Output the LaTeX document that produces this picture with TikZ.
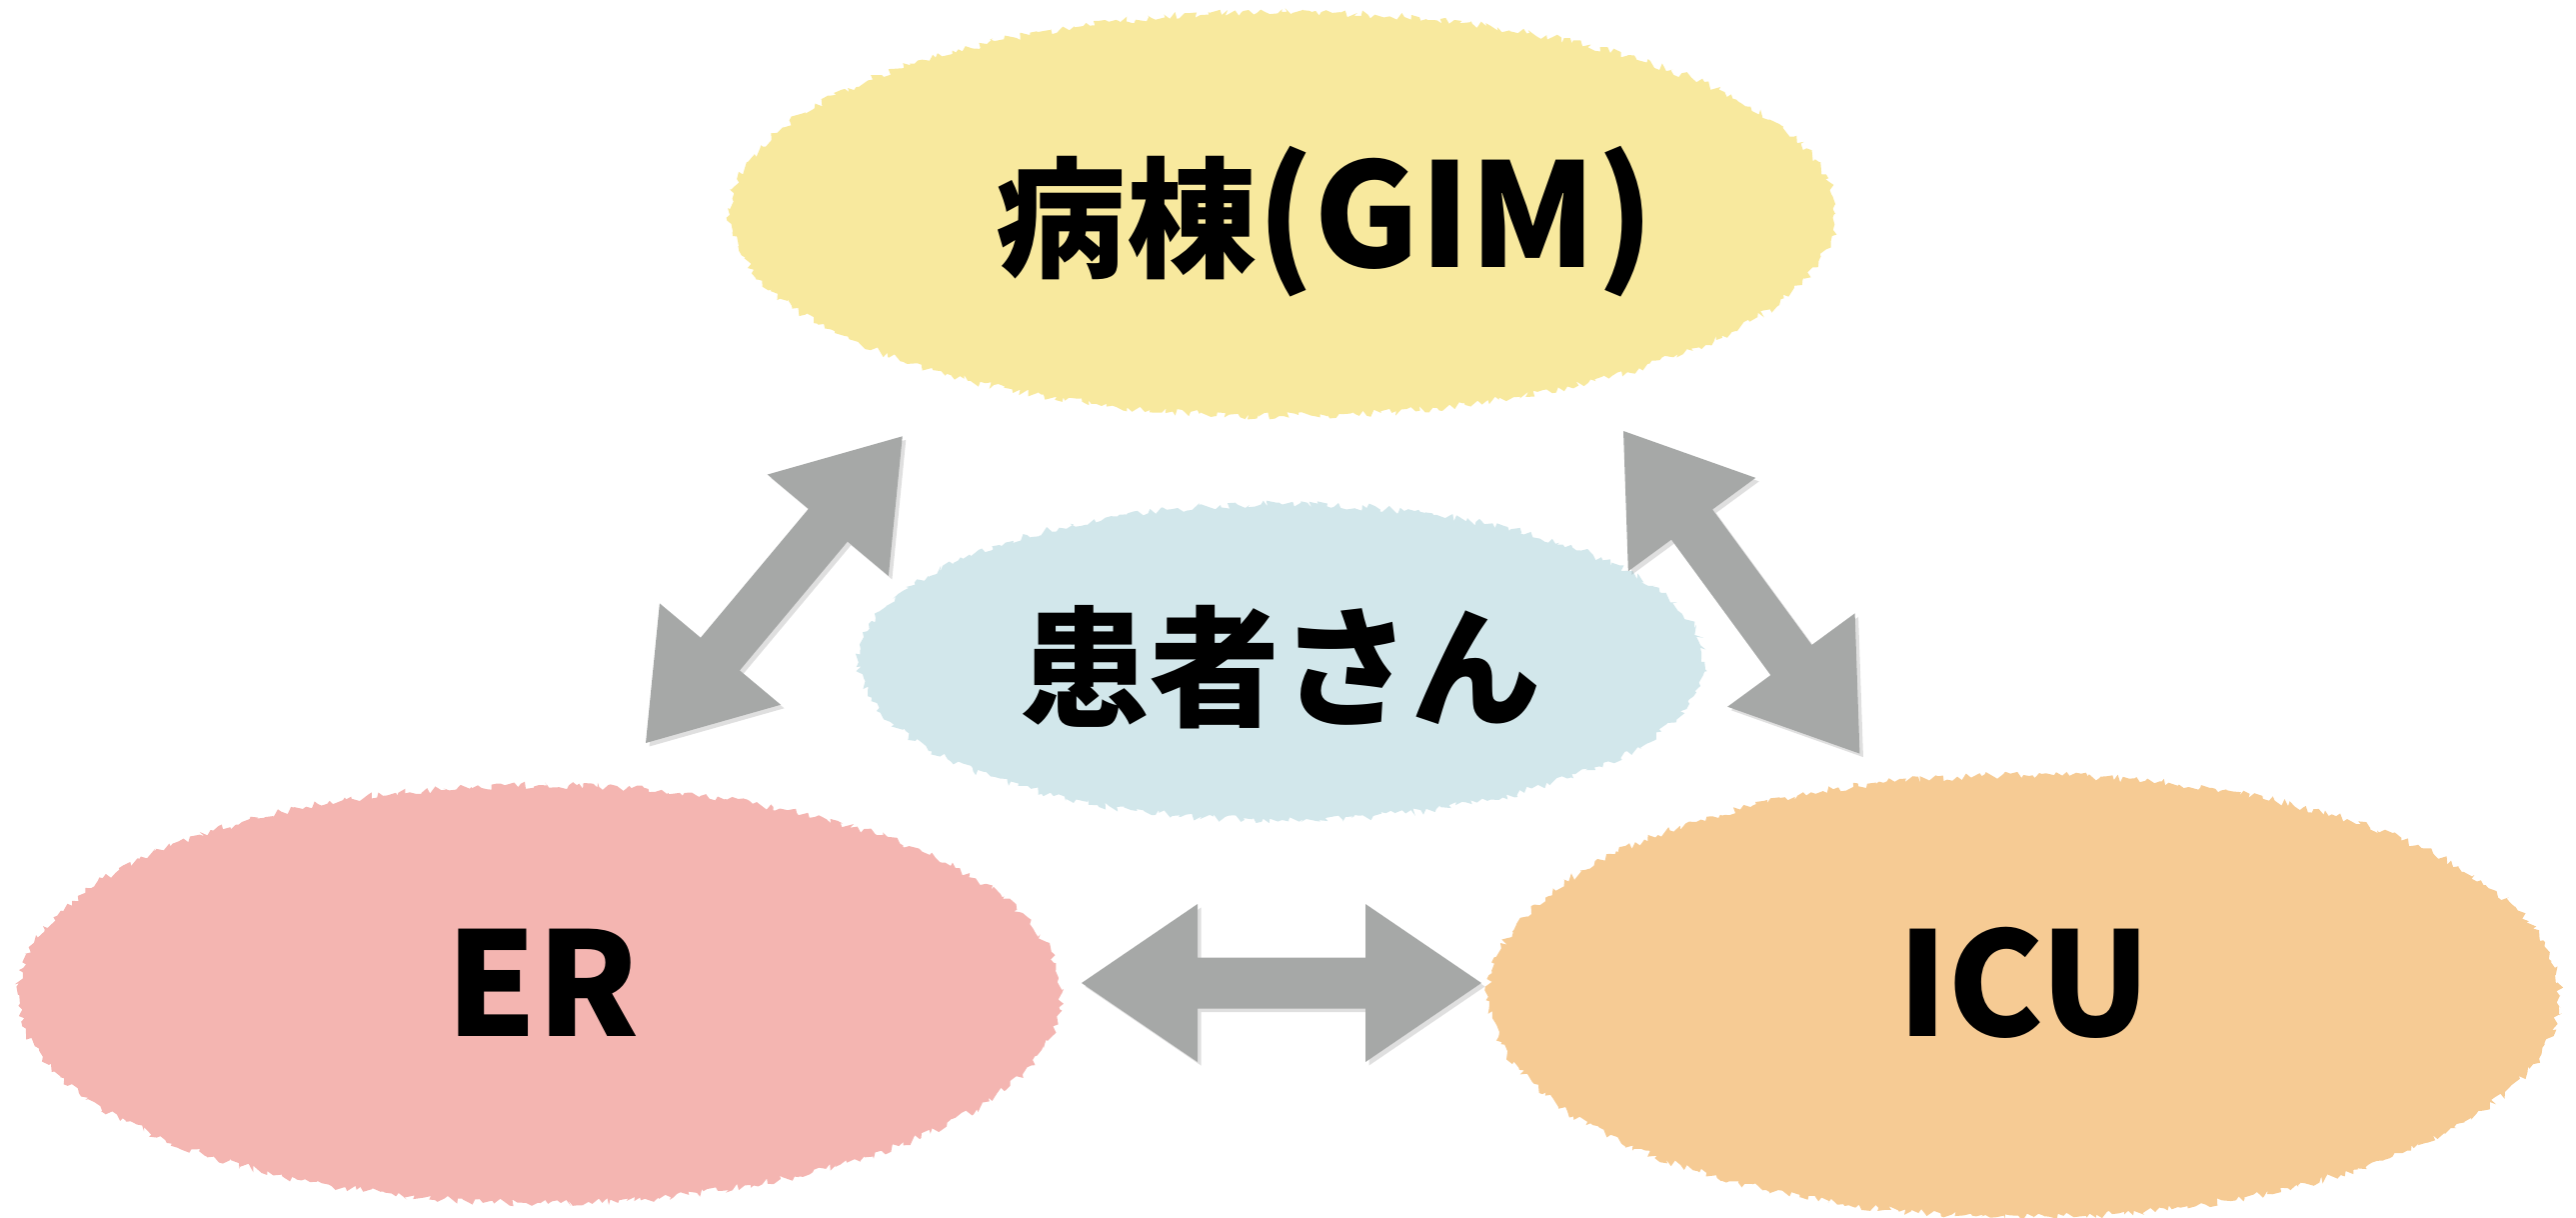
\documentclass[tikz,border=0pt]{standalone}
\usepackage{fontspec}
\newfontfamily\jp{Noto Sans CJK JP}
\usetikzlibrary{shapes.geometric,shadows,decorations.pathmorphing}
\definecolor{gimfill}{RGB}{248,233,158}
\definecolor{patfill}{RGB}{210,231,235}
\definecolor{erfill}{RGB}{244,181,177}
\definecolor{icufill}{RGB}{246,203,148}
\definecolor{arrowgray}{RGB}{166,168,167}
\tikzset{
  blob/.style={ellipse, inner sep=0pt, draw=none, decorate,
    decoration={random steps, segment length=1.1pt, amplitude=1.1pt}},
  lbl/.style={font=\jp\bfseries\fontsize{41}{41}\selectfont, text=black, inner sep=0pt},
  arrowstyle/.style={fill=arrowgray,
    drop shadow={opacity=0.25, shadow xshift=1pt, shadow yshift=-1pt}},
}
\newcommand\cjk[1]{{\fontsize{37}{37}\selectfont #1}}
\newcommand\dbarrow[2]{%
  \pgfmathanglebetweenpoints{\pgfpointanchor{#1}{center}}{\pgfpointanchor{#2}{center}}%
  \edef\arrang{\pgfmathresult}%
  \begin{scope}[shift={(#1)}, rotate=\arrang]
    \fill[arrowstyle] (0,0) -- (116,79) -- (116,25.5) -- (284,25.5) -- (284,79)
      -- (400,0) -- (284,-79) -- (284,-25.5) -- (116,-25.5) -- (116,-79) -- cycle;
  \end{scope}}
\begin{document}
\begin{tikzpicture}[x=0.01cm, y=-0.01cm]
\pgfmathsetseed{4242}
\useasboundingbox (0,0) rectangle (2577,1218);
% ellipses
\node[blob, fill=gimfill, minimum width=1106*0.01cm, minimum height=404*0.01cm] (gim) at (1283,214) {};
\node[blob, fill=patfill, minimum width=846*0.01cm, minimum height=316*0.01cm] (pat) at (1282,662) {};
\node[blob, fill=erfill, minimum width=1044*0.01cm, minimum height=418*0.01cm] (er) at (540,994) {};
\node[blob, fill=icufill, minimum width=1072*0.01cm, minimum height=442*0.01cm] (icu) at (2025,996) {};
% texts
\node[lbl, anchor=base] (gimt) at (1326,267) {\cjk{病棟}(GIM)};
\node[lbl] (patt) at (1281,667) {\cjk{患者さん}};
\node[lbl] (ert) at (543,983) {ER};
\node[lbl] (icut) at (2025,983) {ICU};
% arrow end points
\coordinate (la) at (646,743);
\coordinate (lb) at (903,436);
\coordinate (ra) at (1624,431);
\coordinate (rb) at (1860,753);
\coordinate (ba) at (1082,983);
\coordinate (bb) at (1482,983);
\dbarrow{la}{lb}
\dbarrow{ra}{rb}
\dbarrow{ba}{bb}
\end{tikzpicture}
\end{document}
